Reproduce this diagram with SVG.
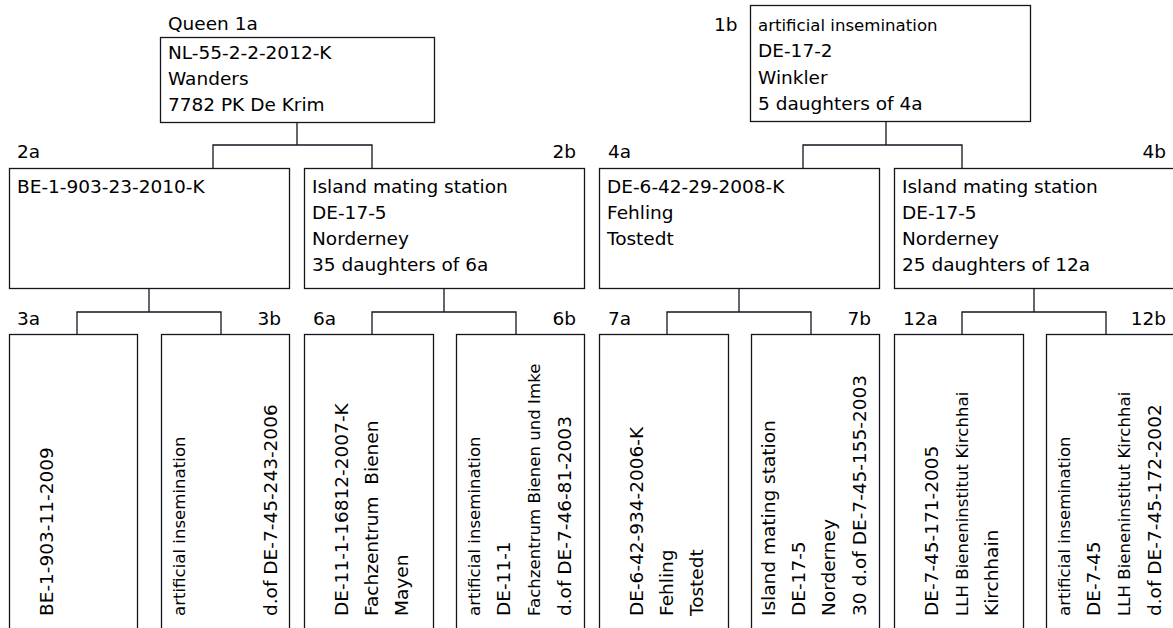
<svg xmlns="http://www.w3.org/2000/svg" width="1173" height="628" viewBox="0 0 1173 628">
<style>
.box{fill:#fff;stroke:#15151f;stroke-width:1.3}
.c{fill:none;stroke:#15151f;stroke-width:1.3}
text{font-family:"DejaVu Sans","Bitstream Vera Sans",sans-serif;font-size:18.5px;fill:#000;white-space:pre}
.s{font-size:16.6px}
.e{text-anchor:end}
</style>
<rect width="1173" height="628" fill="#fff"/>
<g id="connectors">
<path class="c" d="M297 122V145M213 168V145H372V168"/>
<path class="c" d="M886 122V145M803 168V145H962V168"/>
<path class="c" d="M149 288V312M77 334V312H221V334"/>
<path class="c" d="M444 288V312M372 334V312H516V334"/>
<path class="c" d="M739 288V312M667 334V312H811V334"/>
<path class="c" d="M1034 288V312M962 334V312H1106V334"/>
</g>
<g id="n1a">
<text x="168" y="30">Queen 1a</text>
<rect class="box" x="160.5" y="37.5" width="274" height="85"/>
<text x="168" y="59">NL-55-2-2-2012-K</text>
<text x="168" y="85">Wanders</text>
<text x="168" y="111">7782 PK De Krim</text>
</g>
<g id="n1b">
<text x="714" y="31">1b</text>
<rect class="box" x="750.5" y="5.5" width="280" height="116"/>
<text class="s" x="758" y="31">artificial insemination</text>
<text x="758" y="57">DE-17-2</text>
<text x="758" y="83.5">Winkler</text>
<text x="758" y="110">5 daughters of 4a</text>
</g>
<g id="n2a">
<text x="17" y="158">2a</text>
<rect class="box" x="9.5" y="168.5" width="280" height="120"/>
<text x="17" y="193">BE-1-903-23-2010-K</text>
</g>
<g id="n2b">
<text class="e" x="576" y="158">2b</text>
<rect class="box" x="304.5" y="168.5" width="280" height="120"/>
<text x="312" y="193">Island mating station</text>
<text x="312" y="219">DE-17-5</text>
<text x="312" y="245">Norderney</text>
<text x="312" y="271">35 daughters of 6a</text>
</g>
<g id="n4a">
<text x="608" y="158">4a</text>
<rect class="box" x="599.5" y="168.5" width="280" height="120"/>
<text x="607" y="193">DE-6-42-29-2008-K</text>
<text x="607" y="219">Fehling</text>
<text x="607" y="245">Tostedt</text>
</g>
<g id="n4b">
<text class="e" x="1166" y="158">4b</text>
<rect class="box" x="894.5" y="168.5" width="290" height="120"/>
<text x="902" y="193">Island mating station</text>
<text x="902" y="219">DE-17-5</text>
<text x="902" y="245">Norderney</text>
<text x="902" y="271">25 daughters of 12a</text>
</g>
<g id="n3a">
<text x="17" y="325">3a</text>
<rect class="box" x="9.5" y="334.5" width="128" height="310"/>
<text transform="translate(53,616) rotate(-90)">BE-1-903-11-2009</text>
</g>
<g id="n3b">
<text class="e" x="281" y="325">3b</text>
<rect class="box" x="161.5" y="334.5" width="128" height="310"/>
<text class="s" transform="translate(185,616) rotate(-90)">artificial insemination</text>
<text transform="translate(277,616) rotate(-90)">d.of DE-7-45-243-2006</text>
</g>
<g id="n6a">
<text x="313" y="325">6a</text>
<rect class="box" x="304.5" y="334.5" width="129" height="310"/>
<text transform="translate(348,616) rotate(-90)">DE-11-1-16812-2007-K</text>
<text transform="translate(378,616) rotate(-90)">Fachzentrum  Bienen</text>
<text transform="translate(408,616) rotate(-90)">Mayen</text>
</g>
<g id="n6b">
<text class="e" x="576" y="325">6b</text>
<rect class="box" x="456.5" y="334.5" width="128" height="310"/>
<text class="s" transform="translate(480,616) rotate(-90)">artificial insemination</text>
<text transform="translate(510,616) rotate(-90)">DE-11-1</text>
<text class="s" transform="translate(540,616) rotate(-90)">Fachzentrum Bienen und Imke</text>
<text transform="translate(571,616) rotate(-90)">d.of DE-7-46-81-2003</text>
</g>
<g id="n7a">
<text x="608" y="325">7a</text>
<rect class="box" x="599.5" y="334.5" width="129" height="310"/>
<text transform="translate(643,616) rotate(-90)">DE-6-42-934-2006-K</text>
<text transform="translate(673,616) rotate(-90)">Fehling</text>
<text transform="translate(703,616) rotate(-90)">Tostedt</text>
</g>
<g id="n7b">
<text class="e" x="871" y="325">7b</text>
<rect class="box" x="751.5" y="334.5" width="128" height="310"/>
<text transform="translate(775,616) rotate(-90)">Island mating station</text>
<text transform="translate(805,616) rotate(-90)">DE-17-5</text>
<text transform="translate(835,616) rotate(-90)">Norderney</text>
<text transform="translate(866,616) rotate(-90)">30 d.of DE-7-45-155-2003</text>
</g>
<g id="n12a">
<text x="903" y="325">12a</text>
<rect class="box" x="894.5" y="334.5" width="129" height="310"/>
<text transform="translate(938,616) rotate(-90)">DE-7-45-171-2005</text>
<text class="s" transform="translate(968,616) rotate(-90)">LLH Bieneninstitut Kirchhai</text>
<text transform="translate(998,616) rotate(-90)">Kirchhain</text>
</g>
<g id="n12b">
<text class="e" x="1166" y="325">12b</text>
<rect class="box" x="1046.5" y="334.5" width="140" height="310"/>
<text class="s" transform="translate(1070,616) rotate(-90)">artificial insemination</text>
<text transform="translate(1100,616) rotate(-90)">DE-7-45</text>
<text class="s" transform="translate(1130,616) rotate(-90)">LLH Bieneninstitut Kirchhai</text>
<text transform="translate(1161,616) rotate(-90)">d.of DE-7-45-172-2002</text>
</g>
</svg>
